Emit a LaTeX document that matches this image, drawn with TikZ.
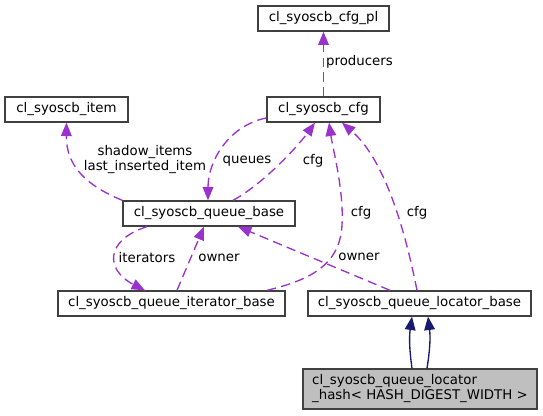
\documentclass[tikz,border=0pt]{standalone}
\usepackage{fontspec}
\setmainfont{DejaVu Sans}
\usepackage{tikz}
\usetikzlibrary{arrows.meta}
\definecolor{viola}{HTML}{9A32CD}
\definecolor{blunotte}{HTML}{191970}
\definecolor{bordo}{HTML}{404040}
\definecolor{grigio}{HTML}{BFBFBF}

\begin{document}
\begin{tikzpicture}[x=0.75pt,y=-0.75pt,
    classe/.style={draw=bordo,line width=1pt,fill=white,inner sep=0pt,minimum height=18.75pt,font=\fontsize{10}{11.25}\selectfont},
    uso/.style={draw=viola,line width=1pt,dash pattern=on 7pt off 4pt,-{Triangle[length=10pt,width=8pt]}},
    eredita/.style={draw=blunotte,line width=1pt,-{Triangle[length=10pt,width=8pt]}},
    etichetta/.style={inner sep=0pt,align=center,font=\fontsize{10}{11.25}\selectfont}]
    \useasboundingbox (0,0) rectangle (543,416);
    % Disegna le classi
    \node[classe,minimum width=98.25pt] (cfgpl) at (323.5,18.5) {cl\_syoscb\_cfg\_pl};
    \node[classe,minimum width=92.25pt] (item) at (66.5,109.5) {cl\_syoscb\_item};
    \node[classe,minimum width=84.75pt] (cfg) at (323.5,109.5) {cl\_syoscb\_cfg};
    \node[classe,minimum width=129pt] (qbase) at (209,213.5) {cl\_syoscb\_queue\_base};
    \node[classe,minimum width=170.25pt] (iter) at (171.5,303.5) {cl\_syoscb\_queue\_iterator\_base};
    \node[classe,minimum width=167.25pt] (loc) at (419.5,303.5) {cl\_syoscb\_queue\_locator\_base};
    \node[classe,minimum width=175.5pt,minimum height=30pt,fill=grigio,align=left] (hash) at (420,389) {cl\_syoscb\_queue\_locator\\\_hash< HASH\_DIGEST\_WIDTH >};
    % Disegna le relazioni d'uso
    \draw[uso] (cfg.north) -- (cfgpl.south) node[etichetta] at (359.5,62) {producers};
    \draw[uso] (qbase.north west) .. controls (85,185) and (66,165) .. (item.south)
        node[etichetta] at (145,160) {shadow\_items\\last\_inserted\_item};
    \draw[uso] ([shift={(0,8.5)}]cfg.west) .. controls (230,125) and (208,160) .. ([shift={(-1,0)}]qbase.north)
        node[etichetta] at (247,161) {queues};
    \draw[uso] ([shift={(24,0)}]qbase.north) .. controls (260,186) and (295,150) .. ([shift={(-8.5,0)}]cfg.south)
        node[etichetta] at (313,161) {cfg};
    \draw[uso] ([shift={(95.5,0)}]iter.north) .. controls (310,280) and (340,265) .. (342,225)
        .. controls (344,190) and (333,150) .. ([shift={(5.5,0)}]cfg.south)
        node[etichetta] at (361,213) {cfg};
    \draw[uso] ([shift={(-2.5,0)}]loc.north) .. controls (405,230) and (385,160) .. ([shift={(18.5,0)}]cfg.south)
        node[etichetta] at (417,213) {cfg};
    \draw[uso] ([shift={(-29.5,0)}]loc.north) -- ([shift={(29,0)}]qbase.south)
        node[etichetta] at (359,257) {owner};
    \draw[uso] ([shift={(-62,0)}]qbase.south) .. controls (105,240) and (105,270) .. ([shift={(-26.5,0)}]iter.north)
        node[etichetta] at (147,258) {iterators};
    \draw[uso] ([shift={(5.5,0)}]iter.north) -- ([shift={(-5,0)}]qbase.south)
        node[etichetta] at (219,258) {owner};
    % Disegna l'ereditarieta
    \draw[eredita] ([shift={(-8,0)}]hash.north) to[bend left=8] ([shift={(-7.5,0)}]loc.south);
    \draw[eredita] ([shift={(7,0)}]hash.north) to[bend right=8] ([shift={(8.5,0)}]loc.south);
\end{tikzpicture}
\end{document}
